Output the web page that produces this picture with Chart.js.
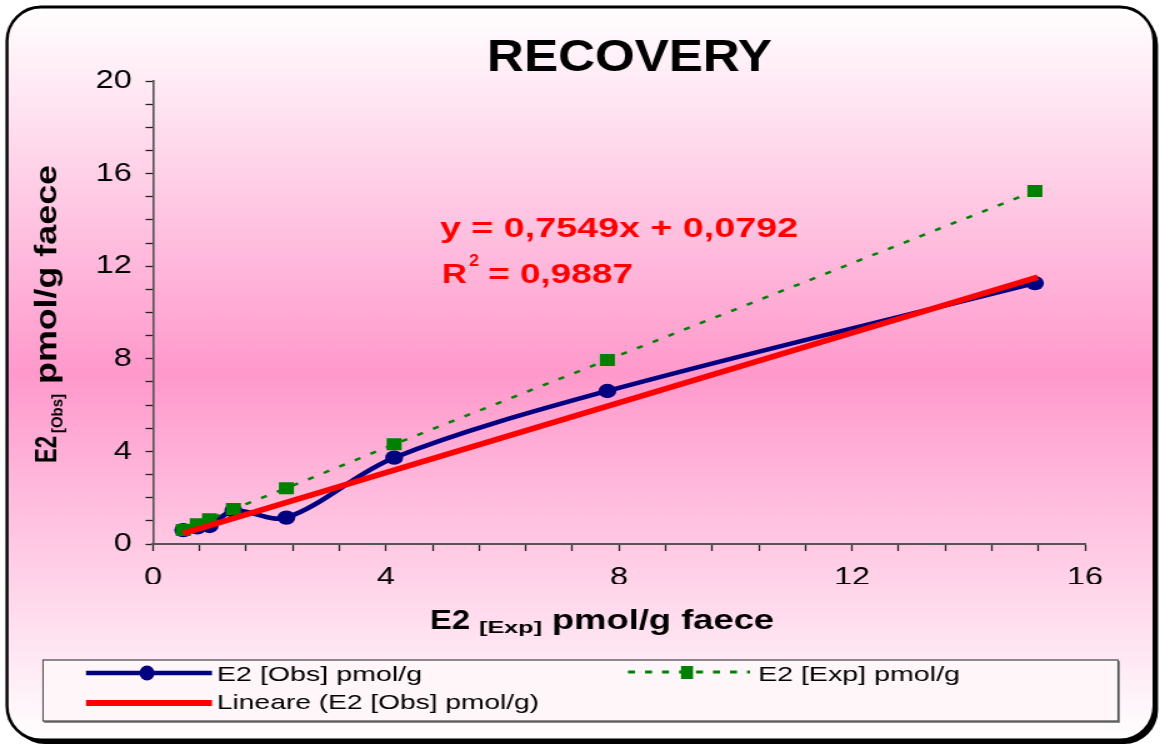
<!DOCTYPE html>
<html>
<head>
<meta charset="utf-8">
<script src="https://cdn.jsdelivr.net/npm/chart.js@4.4.0/dist/chart.umd.min.js"></script>
<style>
  html, body { margin: 0; padding: 0; background: #fff; }
  /* the excel picture is stretched sideways, so the canvas is too */
  canvas { width: 1160px !important; height: 749px !important; display: block; }
</style>
</head>
<body>
<canvas id="recoveryChart" width="928" height="749"></canvas>
<script>
  // values
  var expValues = [0.52, 0.76, 0.97, 1.38, 2.29, 4.14, 7.80, 15.14];   // x : E2 [Exp]
  var obsValues = [0.60, 0.72, 0.78, 1.44, 1.14, 3.73, 6.61, 11.27];   // E2 [Obs]
  var expSeries = [0.60, 0.85, 1.07, 1.51, 2.41, 4.31, 7.95, 15.25];   // E2 [Exp]
  var trendX = [0.52, 15.19];
  var trendY = [0.46, 11.53];
  var xTicks = [0, 4, 8, 12, 16];
  var yTicks = [0, 4, 8, 12, 16, 20];
  var seriesNames = ['E2 [Obs] pmol/g', 'E2 [Exp] pmol/g', 'Lineare (E2 [Obs] pmol/g)'];
  var equation = ['y = 0,7549x + 0,0792', 'R', '2', '= 0,9887'];

  var SX = 1160 / 928;
  var FONT = 'Arial, "Liberation Sans", sans-serif';

  function toPoints(xs, ys) {
    return xs.map(function (x, i) { return { x: x, y: ys[i] }; });
  }

  function roundRectPath(ctx, x, y, w, h, r) {
    ctx.beginPath();
    ctx.moveTo(x + r, y);
    ctx.lineTo(x + w - r, y);
    ctx.arcTo(x + w, y, x + w, y + r, r);
    ctx.lineTo(x + w, y + h - r);
    ctx.arcTo(x + w, y + h, x + w - r, y + h, r);
    ctx.lineTo(x + r, y + h);
    ctx.arcTo(x, y + h, x, y + h - r, r);
    ctx.lineTo(x, y + r);
    ctx.arcTo(x, y, x + r, y, r);
    ctx.closePath();
  }

  // draws text from its left edge, squeezed/stretched to a given width
  function fitText(ctx, txt, x, y, font, width) {
    ctx.font = font;
    var k = width / ctx.measureText(txt).width;
    ctx.save();
    ctx.translate(x, y);
    ctx.scale(k, 1);
    ctx.textAlign = 'left';
    ctx.textBaseline = 'alphabetic';
    ctx.fillText(txt, 0, 0);
    ctx.restore();
  }

  var decor = {
    id: 'decor',
    beforeDraw: function (chart) {
      var ctx = chart.ctx;
      ctx.save();
      ctx.scale(1 / SX, 1);
      ctx.fillStyle = '#fff';
      ctx.fillRect(0, 0, 1160, 749);
      ctx.fillStyle = '#000';
      roundRectPath(ctx, 11, 11, 1147, 733, 34);
      ctx.fill();
      var g = ctx.createLinearGradient(0, 7, 0, 740);
      g.addColorStop(0, '#ffffff');
      g.addColorStop(0.5, '#ff99cc');
      g.addColorStop(1, '#ffffff');
      roundRectPath(ctx, 7, 7, 1147, 733, 34);
      ctx.fillStyle = g;
      ctx.fill();
      ctx.lineWidth = 3;
      ctx.strokeStyle = '#000';
      ctx.stroke();
      ctx.restore();
    },
    afterDraw: function (chart) {
      var ctx = chart.ctx;
      var ds = chart.data.datasets;
      ctx.save();
      ctx.scale(1 / SX, 1);

      // title
      ctx.fillStyle = '#000';
      fitText(ctx, 'RECOVERY', 487, 71, 'bold 45px ' + FONT, 285);

      // x axis title
      fitText(ctx, 'E2', 430, 629, 'bold 28px ' + FONT, 40);
      fitText(ctx, '[Exp]', 479, 633, 'bold 16px ' + FONT, 63);
      fitText(ctx, 'pmol/g faece', 552, 629, 'bold 28px ' + FONT, 222);

      // y axis title
      ctx.save();
      ctx.translate(56, 463);
      ctx.rotate(-Math.PI / 2);
      fitText(ctx, 'E2', 0, 0, 'bold 30px ' + FONT, 27);
      fitText(ctx, '[Obs]', 30, 6, 'bold 16px ' + FONT, 39);
      fitText(ctx, 'pmol/g faece', 79, 0, 'bold 30px ' + FONT, 219);
      ctx.restore();

      // trend equation
      ctx.fillStyle = '#ff0000';
      fitText(ctx, equation[0], 440, 237, 'bold 27px ' + FONT, 358);
      fitText(ctx, equation[1], 442, 283, 'bold 27px ' + FONT, 25);
      fitText(ctx, equation[2], 469, 266, 'bold 17px ' + FONT, 10);
      fitText(ctx, equation[3], 488, 283, 'bold 27px ' + FONT, 145);

      // legend box
      ctx.fillStyle = '#888';
      ctx.fillRect(44, 661, 1076, 62);
      ctx.fillStyle = '#fff6fa';
      ctx.fillRect(43, 660, 1075, 61);
      ctx.strokeStyle = '#444';
      ctx.lineWidth = 1.2;
      ctx.strokeRect(43, 660, 1075, 61);

      ctx.lineCap = 'butt';
      // obs
      ctx.strokeStyle = ds[0].borderColor;
      ctx.lineWidth = 4.5;
      ctx.beginPath(); ctx.moveTo(86, 673); ctx.lineTo(212, 673); ctx.stroke();
      ctx.fillStyle = ds[0].backgroundColor;
      ctx.beginPath(); ctx.arc(147, 673, 7.5, 0, Math.PI * 2); ctx.fill();
      // exp
      ctx.strokeStyle = ds[1].borderColor;
      ctx.lineWidth = 3;
      ctx.setLineDash([7, 10]);
      ctx.beginPath(); ctx.moveTo(628, 672); ctx.lineTo(750, 672); ctx.stroke();
      ctx.setLineDash([]);
      ctx.fillStyle = ds[1].backgroundColor;
      ctx.fillRect(681, 666, 12, 13);
      // trend
      ctx.strokeStyle = ds[2].borderColor;
      ctx.lineWidth = 6;
      ctx.beginPath(); ctx.moveTo(86, 703); ctx.lineTo(212, 703); ctx.stroke();

      ctx.fillStyle = '#000';
      fitText(ctx, ds[0].label, 217, 681, '21px ' + FONT, 205);
      fitText(ctx, ds[1].label, 758, 681, '21px ' + FONT, 202);
      fitText(ctx, ds[2].label, 217, 709, '21px ' + FONT, 322);

      ctx.restore();
    }
  };

  var tickFont = { family: FONT, size: 26 };

  new Chart(document.getElementById('recoveryChart'), {
    type: 'scatter',
    data: {
      datasets: [
        {
          label: seriesNames[0],
          data: toPoints(expValues, obsValues),
          showLine: true,
          borderColor: '#000080',
          backgroundColor: '#000080',
          borderWidth: 4.5,
          tension: 0.33,
          pointRadius: 7.2,
          pointBorderWidth: 0,
          order: 3
        },
        {
          label: seriesNames[1],
          data: toPoints(expValues, expSeries),
          showLine: true,
          borderColor: '#008000',
          backgroundColor: '#008000',
          borderWidth: 2.5,
          borderDash: [5, 9],
          pointStyle: 'rect',
          pointRadius: 8.5,
          pointBorderWidth: 0,
          order: 2
        },
        {
          label: seriesNames[2],
          data: toPoints(trendX, trendY),
          showLine: true,
          borderColor: '#ff0000',
          backgroundColor: '#ff0000',
          borderWidth: 5.5,
          pointRadius: 0,
          order: 1
        }
      ]
    },
    options: {
      responsive: false,
      animation: false,
      devicePixelRatio: 1,
      events: [],
      layout: { padding: { left: 10, right: 60, top: 81, bottom: 165 } },
      plugins: {
        legend: { display: false },
        title: { display: false },
        tooltip: { enabled: false }
      },
      scales: {
        x: {
          type: 'linear',
          min: 0,
          max: 16,
          afterFit: function (s) { s.height = 40; },
          ticks: {
            stepSize: 0.8,
            autoSkip: false,
            maxRotation: 0,
            padding: 11,
            color: '#000',
            font: tickFont,
            callback: function (v) { return xTicks.indexOf(v) >= 0 ? String(v) : ''; }
          },
          grid: { drawOnChartArea: false, drawTicks: true, tickLength: 7, tickColor: '#222', tickWidth: 1.3 },
          border: { display: true, color: '#555', width: 2 }
        },
        y: {
          type: 'linear',
          min: 0,
          max: 20,
          afterFit: function (s) { s.width = 112.4; },
          ticks: {
            stepSize: 1,
            autoSkip: false,
            padding: 11,
            color: '#000',
            font: tickFont,
            callback: function (v) { return yTicks.indexOf(v) >= 0 ? String(v) : ''; }
          },
          grid: { drawOnChartArea: false, drawTicks: true, tickLength: 6, tickColor: '#222', tickWidth: 1.3 },
          border: { display: true, color: '#555', width: 1.6 }
        }
      }
    },
    plugins: [decor]
  });
</script>
</body>
</html>
